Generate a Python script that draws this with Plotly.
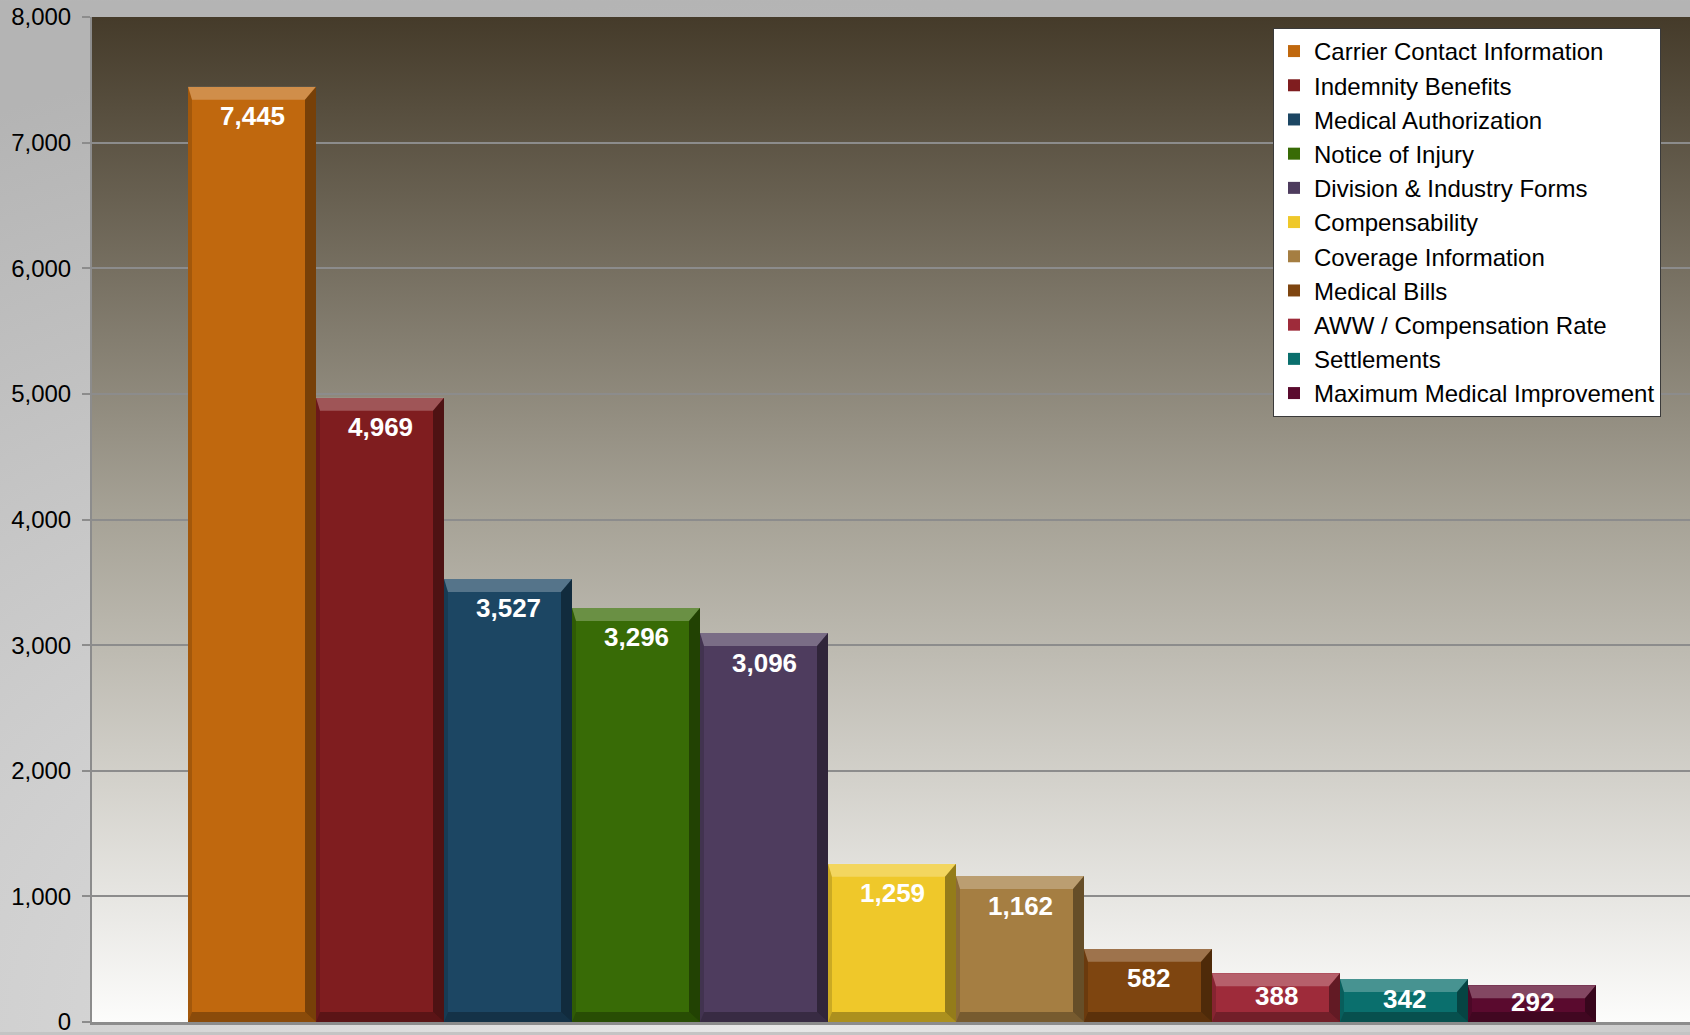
import base64
import plotly.graph_objects as go

# Inquiry counts by category
categories = [
    "Carrier Contact Information",
    "Indemnity Benefits",
    "Medical Authorization",
    "Notice of Injury",
    "Division & Industry Forms",
    "Compensability",
    "Coverage Information",
    "Medical Bills",
    "AWW / Compensation Rate",
    "Settlements",
    "Maximum Medical Improvement",
]
counts = [7445, 4969, 3527, 3296, 3096, 1259, 1162, 582, 388, 342, 292]
colors = [
    "#c0680e", "#7f1d1f", "#1c4663", "#386b06", "#4e3c5e", "#efc82a",
    "#a57e42", "#7e4510", "#9e2b3a", "#0a6f6d", "#5a0a2e",
]
y_ticks = [0, 1000, 2000, 3000, 4000, 5000, 6000, 7000, 8000]
y_max = 8000

# Figure geometry
W, H = 1690, 1035
ML, MR, MT, MB = 92, 0, 17, 10
PW, PH = W - ML - MR, H - MT - MB
BAR_PX = 128.0
x_lo = -0.5 - 96.0 / BAR_PX
x_hi = x_lo + PW / BAR_PX
px_per_unit_y = PH / y_max


def svg_uri(svg):
    return "data:image/svg+xml;base64," + base64.b64encode(svg.encode()).decode()


plot_bg = svg_uri(
    '<svg xmlns="http://www.w3.org/2000/svg" width="100" height="100" viewBox="0 0 100 100" '
    'preserveAspectRatio="none"><defs><linearGradient id="g" x1="0" y1="0" x2="0" y2="1">'
    '<stop offset="0" stop-color="#453b2a"/><stop offset="0.5" stop-color="#a7a397"/>'
    '<stop offset="1" stop-color="#fcfcfb"/></linearGradient></defs>'
    '<rect width="100" height="100" fill="url(#g)"/></svg>'
)
paper_bg = svg_uri(
    '<svg xmlns="http://www.w3.org/2000/svg" width="100" height="100" viewBox="0 0 100 100" '
    'preserveAspectRatio="none"><defs><radialGradient id="r" cx="0.45" cy="1.0" r="1.0">'
    '<stop offset="0" stop-color="#e8e8e8"/><stop offset="1" stop-color="#b4b4b4"/>'
    '</radialGradient></defs><rect width="100" height="100" fill="url(#r)"/></svg>'
)

fig = go.Figure()

for i, (name, v, c) in enumerate(zip(categories, counts, colors)):
    fig.add_trace(go.Bar(
        x=[i], y=[v], width=[1.0], name=name,
        marker=dict(color=c, line=dict(width=0)),
        legendgroup=name, hoverinfo="x+y",
    ))

# Bevel edges on each bar
bx_l, bx_r = 4 / BAR_PX, 11 / BAR_PX
by_t, by_b = 13 / px_per_unit_y, 10 / px_per_unit_y
shapes = []


def poly(pts, fill):
    d = "M " + " L ".join(f"{px},{py}" for px, py in pts) + " Z"
    return dict(type="path", path=d, xref="x", yref="y", fillcolor=fill,
                line=dict(width=0), layer="above")


for i, v in enumerate(counts):
    x0, x1, y0, y1 = i - 0.5, i + 0.5, 0, v
    shapes.append(poly([(x0, y1), (x1, y1), (x1 - bx_r, y1 - by_t), (x0 + bx_l, y1 - by_t)],
                       "rgba(255,255,255,0.25)"))
    shapes.append(poly([(x1, y1), (x1, y0), (x1 - bx_r, y0 + by_b), (x1 - bx_r, y1 - by_t)],
                       "rgba(0,0,0,0.38)"))
    shapes.append(poly([(x0, y0), (x1, y0), (x1 - bx_r, y0 + by_b), (x0 + bx_l, y0 + by_b)],
                       "rgba(0,0,0,0.28)"))
    shapes.append(poly([(x0, y0), (x0, y1), (x0 + bx_l, y1 - by_t), (x0 + bx_l, y0 + by_b)],
                       "rgba(0,0,0,0.15)"))

# Value labels inside the top of each bar
annotations = []
for i, v in enumerate(counts):
    h_px = v * px_per_unit_y
    off = min(29.5, h_px / 2 - 2)
    annotations.append(dict(
        x=i, y=v, xref="x", yref="y", text=f"{v:,}", showarrow=False,
        yanchor="middle", yshift=-off,
        font=dict(family="Liberation Sans, Arial, sans-serif", size=26, color="white",
                  weight="bold"),
    ))

fig.update_layout(
    width=W, height=H,
    margin=dict(l=ML, r=MR, t=MT, b=MB, pad=0),
    paper_bgcolor="#c4c4c4",
    plot_bgcolor="rgba(0,0,0,0)",
    barmode="overlay",
    bargap=0,
    showlegend=True,
    legend=dict(
        x=(1273 - ML) / PW, y=1 - (28 - MT) / PH, xanchor="left", yanchor="top",
        bgcolor="white", bordercolor="#3a3a3a", borderwidth=1,
        font=dict(family="Liberation Sans, Arial, sans-serif", size=24, color="#000000"),
        tracegroupgap=7, traceorder="normal",
    ),
    xaxis=dict(
        range=[x_lo, x_hi], showticklabels=False, showgrid=False, zeroline=False,
        showline=True, linecolor="#8c8c8c", linewidth=3, ticks="",
    ),
    yaxis=dict(
        range=[0, y_max], tickvals=y_ticks, ticktext=[f"{t:,}" for t in y_ticks],
        ticks="outside", ticklen=8, tickwidth=2, tickcolor="#8c8c8c",
        showline=True, linecolor="#8c8c8c", linewidth=2,
        showgrid=True, gridcolor="#8c8c8c", gridwidth=2, zeroline=False,
        tickfont=dict(family="Liberation Sans, Arial, sans-serif", size=24, color="#000000"),
        ticklabelstandoff=6, ticklabeloverflow="allow",
    ),
    images=[
        dict(source=paper_bg, xref="paper", yref="paper", x=-ML / PW, y=1 + MT / PH,
             sizex=W / PW, sizey=H / PH, xanchor="left", yanchor="top",
             sizing="stretch", layer="below"),
        dict(source=plot_bg, xref="paper", yref="paper", x=0, y=1, sizex=1, sizey=1,
             xanchor="left", yanchor="top", sizing="stretch", layer="below"),
    ],
    shapes=shapes,
    annotations=annotations,
)

fig.write_html("out.html")
